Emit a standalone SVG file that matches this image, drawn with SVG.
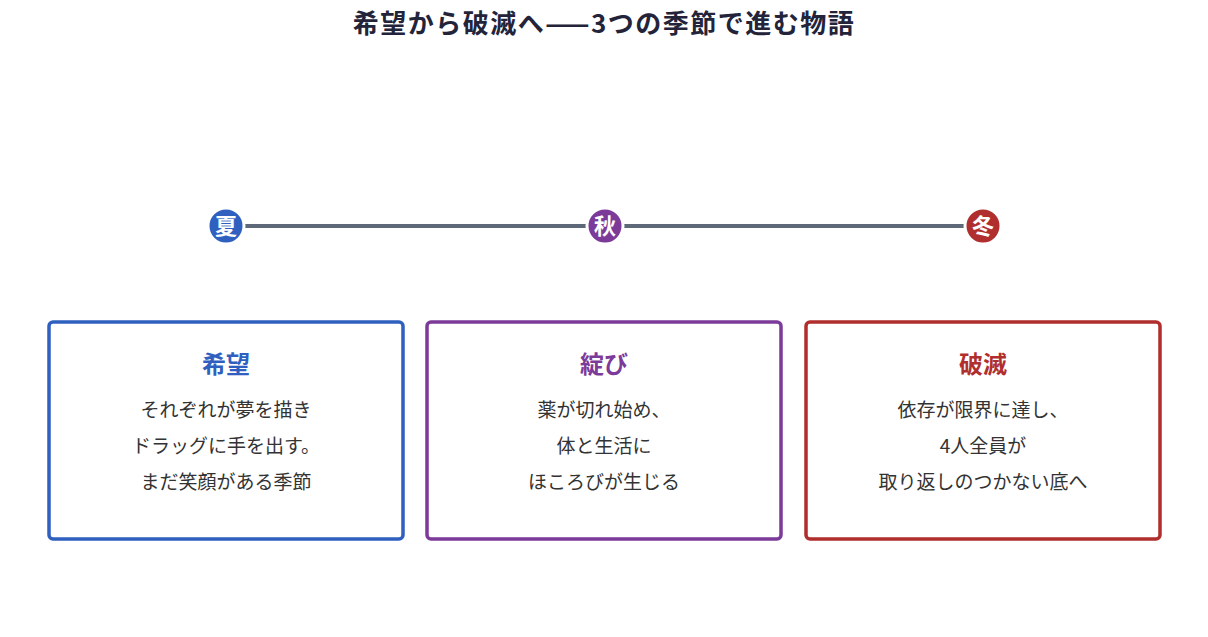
<svg xmlns="http://www.w3.org/2000/svg" width="1208" height="637" viewBox="0 0 1208 637">
<style>
text{font-family:"Noto Sans CJK JP","Noto Sans",sans-serif;text-anchor:middle}
.title{font-size:26px;font-weight:700;fill:#23243a;letter-spacing:1.5px}
.dot{stroke:#fff;stroke-width:3}
.lbl{font-size:22px;font-weight:700;fill:#fff}
.box{fill:#fff;stroke-width:3.5}
.head{font-size:24px;font-weight:700}
.body{font-size:19px;fill:#333}
</style>
<rect width="1208" height="637" fill="#fff"/>
<text class="title" x="604" y="33">希望から破滅へ——3つの季節で進む物語</text>
<g id="connectors">
<line x1="226" y1="226" x2="983" y2="226" stroke="#5d6978" stroke-width="4"/>
</g>
<g id="summer">
<circle class="dot" cx="226" cy="226" r="18" fill="#2f60c0"/>
<text class="lbl" x="226" y="234">夏</text>
</g>
<g id="autumn">
<circle class="dot" cx="605" cy="226" r="18" fill="#7c3a99"/>
<text class="lbl" x="605" y="234">秋</text>
</g>
<g id="winter">
<circle class="dot" cx="983" cy="226" r="18" fill="#b02e2e"/>
<text class="lbl" x="983" y="234">冬</text>
</g>
<g id="hope">
<rect class="box" x="49" y="322" width="354" height="217" rx="4" stroke="#2f60c0"/>
<text class="head" x="226" y="373" fill="#2f60c0">希望</text>
<text class="body" x="226" y="417">それぞれが夢を描き</text>
<text class="body" x="226" y="453">ドラッグに手を出す。</text>
<text class="body" x="226" y="489">まだ笑顔がある季節</text>
</g>
<g id="crack">
<rect class="box" x="427" y="322" width="354" height="217" rx="4" stroke="#7c3a99"/>
<text class="head" x="604" y="373" fill="#7c3a99">綻び</text>
<text class="body" x="604" y="417">薬が切れ始め、</text>
<text class="body" x="604" y="453">体と生活に</text>
<text class="body" x="604" y="489">ほころびが生じる</text>
</g>
<g id="ruin">
<rect class="box" x="806" y="322" width="354" height="217" rx="4" stroke="#b02e2e"/>
<text class="head" x="983" y="373" fill="#b02e2e">破滅</text>
<text class="body" x="983" y="417">依存が限界に達し、</text>
<text class="body" x="983" y="453">4人全員が</text>
<text class="body" x="983" y="489">取り返しのつかない底へ</text>
</g>
</svg>
